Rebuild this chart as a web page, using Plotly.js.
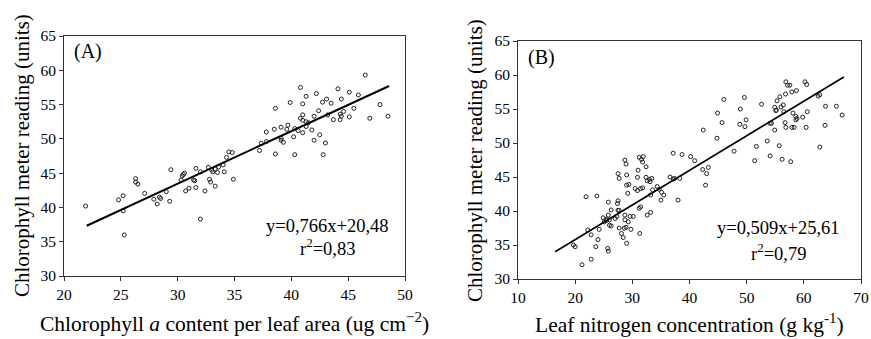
<!DOCTYPE html>
<html><head><meta charset="utf-8">
<script src="https://cdn.plot.ly/plotly-3.0.1.min.js"></script>
<style>html,body{margin:0;padding:0;background:#fff}#c{width:871px;height:339px}</style>
</head><body><div id="c"></div>
<script>
// Panel A: chlorophyll a content (ug cm-2) vs meter reading
const A_x = [21.9,25.3,24.8,25.2,25.2,26.3,26.3,26.5,27.1,27.9,28.4,28.5,28.2,29.0,29.3,29.4,30.3,30.4,30.5,30.6,30.7,31.0,31.6,31.4,31.5,31.6,32.0,32.0,32.4,32.7,33.0,33.1,33.3,32.8,32.9,33.3,33.5,33.6,34.1,34.0,34.3,34.5,34.8,34.9,
  46.5,40.8,44.1,45.1,41.3,42.2,45.9,39.9,41.0,42.75,43.1,43.5,44.4,47.8,38.6,44.6,45.5,42.4,41.0,40.8,41.0,41.3,41.5,42.0,43.2,43.7,44.3,44.4,44.3,45.1,46.9,48.5,41.3,41.8,37.8,38.5,39.1,39.6,39.7,40.3,40.6,41.0,42.5,42.0,43.0,39.1,39.3,39.1,40.2,37.35,37.8,37.2,38.6,40.3,42.8];
const A_y = [40.2,36.0,41.1,41.7,39.5,44.2,43.7,43.4,42.05,41.2,41.5,41.3,40.5,42.3,40.9,45.5,44.0,44.6,44.8,45.0,42.4,42.8,42.9,44.0,43.9,45.7,45.2,38.3,42.4,45.85,45.45,45.2,45.6,44.1,43.7,43.1,45.1,45.9,45.2,46.2,47.3,48.1,48.0,44.1,
  59.3,57.5,57.3,56.8,56.2,56.6,56.4,55.3,55.1,55.35,55.8,55.2,55.8,55.0,54.45,54.0,54.45,54.1,53.5,53.0,52.7,52.5,52.35,53.3,53.5,52.8,53.6,53.3,52.8,53.2,53.0,53.3,51.8,51.3,51.0,51.4,51.7,51.4,52.0,51.5,51.2,50.9,50.6,49.8,49.4,50.1,49.5,49.8,50.3,49.35,49.6,48.3,47.8,47.7,47.7];
const A_slope = 0.766, A_int = 20.48, A_range = [22, 48.6];

// Panel B: leaf nitrogen (g kg-1) vs meter reading
const B_x = [21.2,22.8,19.7,20.0,23.6,24.0,25.7,25.8,22.2,22.8,24.2,21.9,23.8,24.9,25.1,25.5,26.0,25.4,25.8,26.3,25.8,26.0,26.3,27.0,27.3,27.5,27.7,27.5,27.4,27.7,28.1,28.4,28.6,28.9,29.0,28.7,29.3,28.7,29.6,29.75,27.5,27.7,28.7,28.9,29.0,29.0,29.4,29.2,31.2,31.6,31.9,31.8,31.0,32.4,30.9,30.5,30.9,31.45,31.8,32.4,32.6,33.0,33.1,33.4,33.2,31.2,31.45,30.15,32.6,33.2,31.3,33.55,34.35,34.7,35.1,35.0,35.5,36.6,37.15,37.4,38.3,38.0,37.15,38.7,40.2,40.9,42.3,43.0,43.3,42.8,
  42.4,44.8,47.8,44.9,45.7,46.0,49.6,48.9,48.8,49.7,49.9,52.6,51.7,51.4,53.6,54.1,54.1,54.35,54.9,55.7,56.2,57.7,54.9,55.2,55.1,55.3,55.8,56.0,56.4,56.5,56.8,57.9,58.7,56.85,57.15,57.55,60.2,60.5,58.1,58.6,58.8,58.6,56.7,56.85,57.9,58.3,59.8,60.6,60.4,62.5,62.8,62.8,63.7,63.8,65.7,66.7];
const B_y = [32.1,32.9,35.0,34.75,34.75,35.8,34.5,34.1,37.2,36.5,37.3,42.1,42.2,39.0,38.4,38.6,38.7,38.8,39.4,40.15,41.3,37.9,37.8,38.9,39.2,40.1,40.1,41.5,41.1,37.5,36.7,36.1,37.45,37.6,35.25,38.7,38.4,39.4,39.2,37.3,45.5,44.8,47.5,46.9,45.3,43.8,43.9,42.6,47.9,47.6,48.0,47.2,46.0,46.5,44.95,43.3,43.0,43.3,43.4,44.95,44.45,44.65,44.3,44.8,42.35,40.4,40.6,39.2,39.4,39.8,36.7,43.1,43.6,43.2,42.75,41.6,42.35,45.0,44.7,44.8,44.8,41.6,48.5,48.3,48.0,47.4,46.1,45.5,46.4,43.8,
  51.9,50.7,48.8,54.4,53.0,56.4,56.7,55.0,52.75,52.4,53.4,55.7,49.5,47.4,50.3,48.1,52.9,52.9,51.9,49.6,47.6,47.25,55.25,54.85,54.75,56.2,56.8,55.3,55.6,54.6,57.2,57.5,57.7,59.0,58.5,58.5,59.0,58.6,54.4,53.9,53.6,53.4,53.0,52.3,52.3,52.3,53.8,54.6,52.3,56.9,57.1,49.4,52.6,55.4,55.4,54.1];
const B_slope = 0.509, B_int = 25.61, B_range = [16.5, 67.0];

const yTicks = [30,35,40,45,50,55,60,65];
const A_xTicks = [20,25,30,35,40,45,50];
const B_xTicks = [10,20,30,40,50,60,70];

const W = 871, H = 339;
const px = v => v / W, py = v => 1 - v / H;
const serif = 'Liberation Serif, Times New Roman, serif';

const marker = {symbol:'circle-open', size:4, color:'#222', line:{width:1, color:'#222'}};
const traces = [
  {x:A_x, y:A_y, xaxis:'x', yaxis:'y', type:'scatter', mode:'markers', marker:marker, hoverinfo:'none'},
  {x:A_range, y:A_range.map(v=>A_slope*v+A_int), xaxis:'x', yaxis:'y', type:'scatter', mode:'lines', line:{color:'#000', width:2}},
  {x:B_x, y:B_y, xaxis:'x2', yaxis:'y2', type:'scatter', mode:'markers', marker:marker, hoverinfo:'none'},
  {x:B_range, y:B_range.map(v=>B_slope*v+B_int), xaxis:'x2', yaxis:'y2', type:'scatter', mode:'lines', line:{color:'#000', width:1.6}}
];

const axBase = {showgrid:false, zeroline:false, showline:true, linecolor:'#333', linewidth:1, mirror:true,
  ticks:'outside', ticklen:4, tickcolor:'#333', tickfont:{family:serif, size:15.5, color:'#000'}};

const layout = {
  width:W, height:H, margin:{l:0,r:0,t:0,b:0}, showlegend:false,
  paper_bgcolor:'#fff', plot_bgcolor:'#fff',
  xaxis:Object.assign({}, axBase, {domain:[px(64), px(405)], range:[20,50], tickvals:A_xTicks, anchor:'y'}),
  yaxis:Object.assign({}, axBase, {domain:[py(276), py(36)], range:[30,65], tickvals:yTicks, anchor:'x'}),
  xaxis2:Object.assign({}, axBase, {domain:[px(518), px(861)], range:[10,70], tickvals:B_xTicks, anchor:'y2'}),
  yaxis2:Object.assign({}, axBase, {domain:[py(279), py(41)], range:[30,65], tickvals:yTicks, anchor:'x2'}),
  annotations:[
    {text:'(A)', x:px(72), y:py(52), xref:'paper', yref:'paper', xanchor:'left', yanchor:'middle', showarrow:false, font:{family:serif, size:20, color:'#000'}},
    {text:'(B)', x:px(526), y:py(57), xref:'paper', yref:'paper', xanchor:'left', yanchor:'middle', showarrow:false, font:{family:serif, size:20, color:'#000'}},
    {text:'y=0,766x+20,48', x:px(327), y:py(226), xref:'paper', yref:'paper', xanchor:'center', yanchor:'middle', showarrow:false, font:{family:serif, size:18.5, color:'#000'}},
    {text:'r<sup>2</sup>=0,83', x:px(327), y:py(247), xref:'paper', yref:'paper', xanchor:'center', yanchor:'middle', showarrow:false, font:{family:serif, size:18.5, color:'#000'}},
    {text:'y=0,509x+25,61', x:px(778), y:py(228), xref:'paper', yref:'paper', xanchor:'center', yanchor:'middle', showarrow:false, font:{family:serif, size:18.5, color:'#000'}},
    {text:'r<sup>2</sup>=0,79', x:px(778), y:py(252), xref:'paper', yref:'paper', xanchor:'center', yanchor:'middle', showarrow:false, font:{family:serif, size:18.5, color:'#000'}},
    {text:'Chlorophyll <i>a</i> content per leaf area (ug cm<sup>−2</sup>)', x:px(235), y:py(322), xref:'paper', yref:'paper', xanchor:'center', yanchor:'middle', showarrow:false, font:{family:serif, size:21.5, color:'#000'}},
    {text:'Leaf nitrogen concentration (g kg<sup>-1</sup>)', x:px(689), y:py(323), xref:'paper', yref:'paper', xanchor:'center', yanchor:'middle', showarrow:false, font:{family:serif, size:21.5, color:'#000'}},
    {text:'Chlorophyll meter reading (units)', x:px(22), y:py(156), xref:'paper', yref:'paper', xanchor:'center', yanchor:'middle', textangle:-90, showarrow:false, font:{family:serif, size:21, color:'#000'}},
    {text:'Chlorophyll meter reading (units)', x:px(475), y:py(160), xref:'paper', yref:'paper', xanchor:'center', yanchor:'middle', textangle:-90, showarrow:false, font:{family:serif, size:21, color:'#000'}}
  ]
};
Plotly.newPlot('c', traces, layout, {staticPlot:true, displayModeBar:false});
</script>
</body></html>
